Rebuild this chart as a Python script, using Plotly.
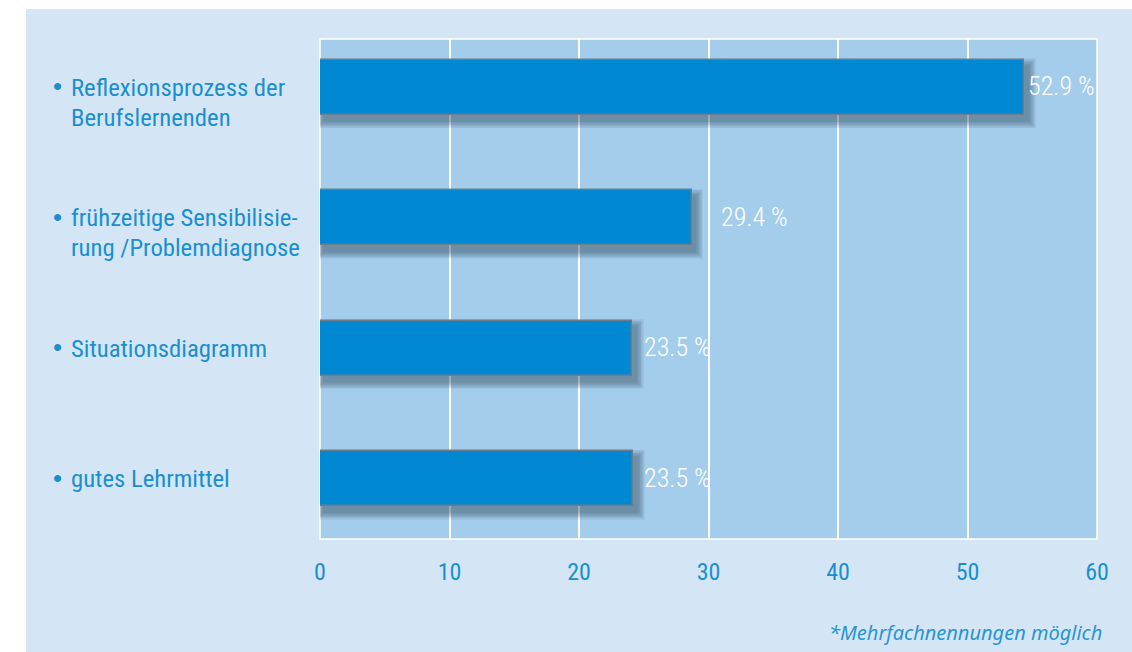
import plotly.graph_objects as go

# ---- data ----
categories = [
    ["Reflexionsprozess der", "Berufslernenden"],
    ["frühzeitige Sensibilisie-", "rung /Problemdiagnose"],
    ["Situationsdiagramm"],
    ["gutes Lehrmittel"],
]
bar_lengths = [54.4, 28.7, 24.1, 24.2]        # bar ends as drawn in the picture
values = [52.9, 29.4, 23.5, 23.5]             # printed percentages
x_ticks = [0, 10, 20, 30, 40, 50, 60]
footnote = "*Mehrfachnennungen möglich"

# ---- layout constants (pixels) ----
W, H = 1132, 652
L, R, T, B = 320, 35, 39, 113
PW, PH = W - L - R, H - T - B
XMIN, XMAX = 0, 60
YTOP, YBOT = -0.372, 3.464
px_x = (XMAX - XMIN) / PW            # data units per px (x)
px_y = (YBOT - YTOP) / PH            # data units per px (y)

def paper_x(px):
    return (px - L) / PW

def paper_y(py):
    return (H - B - py) / PH

PANEL = "#d4e6f5"
PLOT = "#a3cdeb"
BAR = "#0089d2"
TXT = "#1a8fd0"
COND = "Roboto Condensed, DejaVu Sans Condensed, Liberation Sans Narrow, Roboto, sans-serif"

ypos = list(range(len(categories)))
bar_w = 55 * px_y

fig = go.Figure()

# soft drop shadow (layered translucent bars)
for k in range(1, 11):
    grow = k * 1.5
    fig.add_trace(go.Bar(
        orientation="h",
        y=[y + 6 * px_y for y in ypos],
        x=[v + grow * px_x for v in bar_lengths],
        base=[(4 - grow / 2) * px_x] * len(ypos),
        width=bar_w + grow * px_y,
        marker=dict(color="rgba(30,50,75,0.05)", line=dict(width=0)),
        hoverinfo="skip", showlegend=False,
    ))

fig.add_trace(go.Bar(
    orientation="h",
    y=ypos,
    x=bar_lengths,
    width=bar_w,
    marker=dict(color=BAR, line=dict(color="#6d7c88", width=1.5)),
    showlegend=False,
))

annotations = []
for i, (lines, v) in enumerate(zip(categories, values)):
    lab = f"{v:.1f} %"
    fits = v + 7.5 < XMAX
    annotations.append(dict(
        x=v if fits else XMAX, y=i, xref="x", yref="y", text=lab, showarrow=False,
        xanchor="left" if fits else "right", yanchor="middle",
        xshift=18 if fits else 0, yshift=1,
        font=dict(family=COND, size=26, color="white", weight=300),
    ))
    annotations.append(dict(
        x=paper_x(51), y=i, xref="paper", yref="y", text="•", showarrow=False,
        xanchor="left", yanchor="middle", yshift=1,
        font=dict(family="Liberation Sans", size=26, color=TXT),
    ))
    for j, line in enumerate(lines):
        annotations.append(dict(
            x=paper_x(69), y=i, xref="paper", yref="y", text=line, showarrow=False,
            xanchor="left", yanchor="middle", yshift=-30 * j,
            font=dict(family=COND, size=24.7, color=TXT),
        ))

annotations.append(dict(
    x=paper_x(1104), y=paper_y(632), xref="paper", yref="paper", text=footnote,
    showarrow=False, xanchor="right", yanchor="middle",
    font=dict(family="Noto Sans", size=20, color="#2a94d3", style="italic"),
))

shapes = [
    dict(type="rect", xref="paper", yref="paper", layer="below",
         x0=paper_x(26), x1=paper_x(W + 5), y0=paper_y(H + 5), y1=paper_y(9),
         fillcolor=PANEL, line=dict(width=0)),
    dict(type="rect", xref="paper", yref="paper", layer="below",
         x0=0, x1=1, y0=0, y1=1,
         fillcolor=PLOT, line=dict(color="white", width=1.5)),
]

fig.update_layout(
    width=W, height=H,
    margin=dict(l=L, r=R, t=T, b=B, pad=0),
    paper_bgcolor="white",
    plot_bgcolor="rgba(0,0,0,0)",
    barmode="overlay",
    bargap=0,
    shapes=shapes,
    annotations=annotations,
    xaxis=dict(
        range=[XMIN, XMAX], tickvals=x_ticks, showgrid=True,
        gridcolor="white", gridwidth=1.5, zeroline=False, showline=False,
        ticks="", ticklabelstandoff=16,
        tickfont=dict(family=COND, size=24, color=TXT),
    ),
    yaxis=dict(
        range=[YBOT, YTOP], showticklabels=False, showgrid=False,
        zeroline=False, showline=False, ticks="",
    ),
)

fig.write_html("out.html", config={"displayModeBar": False},
               post_script="document.body.style.margin='0';")
